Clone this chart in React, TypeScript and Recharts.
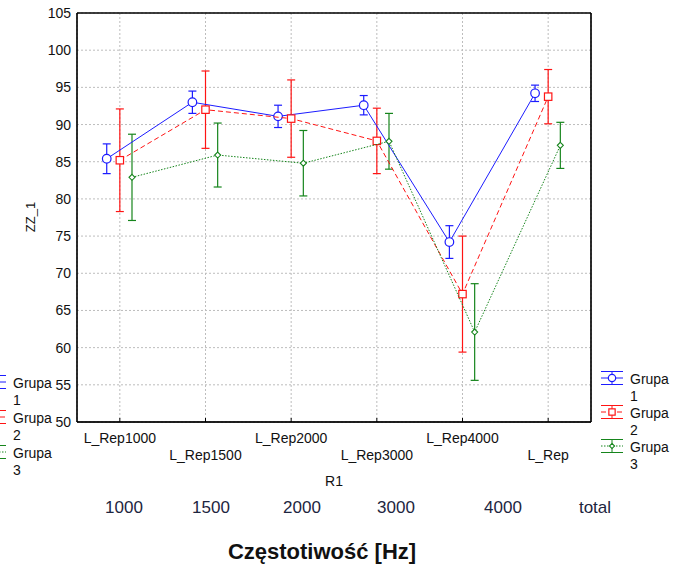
import React from 'react';
import { ScatterChart, Scatter, XAxis, YAxis, CartesianGrid, ErrorBar, ReferenceArea } from 'recharts';

// measurement points along R1
const categories = ['L_Rep1000', 'L_Rep1500', 'L_Rep2000', 'L_Rep3000', 'L_Rep4000', 'L_Rep'];

// group means and half-widths of the confidence bars
const group1Mean = [85.4, 93.0, 91.1, 92.6, 74.2, 94.2];
const group1Err = [2.0, 1.5, 1.5, 1.3, 2.2, 1.1];
const group2Mean = [85.2, 92.0, 90.8, 87.8, 67.2, 93.75];
const group2Err = [6.9, 5.2, 5.2, 4.4, 7.8, 3.65];
const group3Mean = [82.9, 85.9, 84.8, 87.75, 62.1, 87.2];
const group3Err = [5.8, 4.3, 4.4, 3.75, 6.5, 3.1];

const yTicks = [50, 55, 60, 65, 70, 75, 80, 85, 90, 95, 100, 105];
const xTicks = [1, 2, 3, 4, 5, 6];

const freqLabels = ['1000', '1500', '2000', '3000', '4000', 'total'];
const freqLabelX = [124, 211, 302, 396, 503, 595];

const FONT = '"Liberation Sans", Arial, sans-serif';

type Kind = 'circle' | 'square' | 'diamond';

const SERIES = [
  { id: '1', mean: group1Mean, err: group1Err, color: '#1c1cff', dash: undefined, offset: -0.153, kind: 'circle' as Kind },
  { id: '2', mean: group2Mean, err: group2Err, color: '#ff1414', dash: '5 3', offset: 0, kind: 'square' as Kind },
  { id: '3', mean: group3Mean, err: group3Err, color: '#16851c', dash: '1.5 1.5', offset: 0.142, kind: 'diamond' as Kind },
];

const toPoints = (mean: number[], err: number[], offset: number) =>
  mean.map((m, i) => ({ x: i + 1 + offset, y: m, err: err[i] }));

const Marker = ({ kind, cx, cy, color, s = 1 }: { kind: Kind; cx: number; cy: number; color: string; s?: number }) => {
  if (kind === 'circle') return <circle cx={cx} cy={cy} r={4.3 * s} fill="#fff" stroke={color} strokeWidth={1.2} />;
  if (kind === 'square')
    return <rect x={cx - 3.7 * s} y={cy - 3.7 * s} width={7.4 * s} height={7.4 * s} fill="#fff" stroke={color} strokeWidth={1.2} />;
  const d = 3 * s;
  return <path d={`M${cx},${cy - d}L${cx + d},${cy}L${cx},${cy + d}L${cx - d},${cy}Z`} fill="#fff" stroke={color} strokeWidth={1.1} />;
};

// alternating two-row category ticks, with a short inward tick mark
const CategoryTick = (props: any) => {
  const { x, y, payload } = props;
  const idx = Math.round(payload.value) - 1;
  const dy = idx % 2 === 0 ? 16 : 33;
  return (
    <g>
      <line x1={x} y1={y} x2={x} y2={y - 4} stroke="#000" strokeWidth={1} />
      <text x={x} y={y + dy} textAnchor="middle" dominantBaseline="central" fontSize={14} fontFamily={FONT} fill="#111">
        {categories[idx]}
      </text>
    </g>
  );
};

const LegendIcon = ({ s }: { s: (typeof SERIES)[number] }) => (
  <svg width={24} height={16} style={{ position: 'absolute', left: 0, top: 0, overflow: 'visible' }}>
    <line x1={1} y1={1.5} x2={23} y2={1.5} stroke={s.color} strokeWidth={1} />
    <line x1={1} y1={14.5} x2={23} y2={14.5} stroke={s.color} strokeWidth={1} />
    <line x1={12} y1={1.5} x2={12} y2={14.5} stroke={s.color} strokeWidth={1} />
    <line x1={1} y1={8} x2={23} y2={8} stroke={s.color} strokeWidth={1} strokeDasharray={s.dash} />
    <Marker kind={s.kind} cx={12} cy={8} color={s.color} s={0.85} />
  </svg>
);

const GroupLegend = ({ left, top, step }: { left: number; top: number; step: number }) => (
  <>
    {SERIES.map((s, i) => (
      <div key={s.id} style={{ position: 'absolute', left, top: top + i * step, width: 80 }}>
        <LegendIcon s={s} />
        <div style={{ position: 'absolute', left: 30, top: 1, fontSize: 14, lineHeight: '17.5px', color: '#111', fontFamily: FONT }}>
          Grupa
          <br />
          {s.id}
        </div>
      </div>
    ))}
  </>
);

export default function App() {
  return (
    <div style={{ position: 'absolute', left: 0, top: 0, width: 686, height: 565, overflow: 'hidden', background: '#fff', fontFamily: FONT }}>
      <ScatterChart width={686} height={565} margin={{ top: 12, right: 95, bottom: 103, left: 0 }}>
        <CartesianGrid stroke="#bdbdbd" strokeDasharray="2 2" />
        <XAxis
          type="number"
          dataKey="x"
          domain={[0.5, 6.5]}
          ticks={xTicks}
          height={40}
          tickLine={false}
          tickSize={0}
          tickMargin={0}
          axisLine={{ stroke: '#000', strokeWidth: 1.3 }}
          tick={<CategoryTick />}
          interval={0}
        />
        <XAxis xAxisId="top" orientation="top" type="number" domain={[0.5, 6.5]} ticks={xTicks} height={1} tick={false} tickLine={false} axisLine={{ stroke: '#000' }} />
        <YAxis
          type="number"
          dataKey="y"
          domain={[50, 105]}
          ticks={yTicks}
          width={77}
          tickLine={false}
          tickSize={4}
          tickMargin={2}
          axisLine={{ stroke: '#000', strokeWidth: 1.3 }}
          tick={{ fontSize: 14, fill: '#111', fontFamily: FONT }}
          interval={0}
        />
        <YAxis
          yAxisId="right"
          orientation="right"
          type="number"
          domain={[50, 105]}
          ticks={yTicks}
          width={1}
          mirror
          tickSize={4}
          tick={false}
          tickLine={{ stroke: '#000' }}
          axisLine={{ stroke: '#000', strokeWidth: 1.3 }}
        />
        <ReferenceArea x1={0.5} x2={6.5} y1={50} y2={105} fill="none" stroke="#000" strokeWidth={1} ifOverflow="visible" />
        {SERIES.map((s) => (
          <Scatter
            key={s.id}
            name={`Grupa ${s.id}`}
            data={toPoints(s.mean, s.err, s.offset)}
            isAnimationActive={false}
            line={{ stroke: s.color, strokeWidth: 1, strokeDasharray: s.dash }}
            lineJointType="linear"
            shape={(p: any) => <Marker kind={s.kind} cx={p.cx} cy={p.cy} color={s.color} />}
          >
            <ErrorBar dataKey="err" direction="y" width={4} stroke={s.color} strokeWidth={1.2} isAnimationActive={false} />
          </Scatter>
        ))}
      </ScatterChart>

      <div style={{ position: 'absolute', left: 30, top: 217, transform: 'translate(-50%, -50%) rotate(-90deg)', fontSize: 13, color: '#111', whiteSpace: 'nowrap' }}>
        ZZ_1
      </div>
      <div style={{ position: 'absolute', left: 334, top: 481, transform: 'translate(-50%, -50%)', fontSize: 14, color: '#111' }}>R1</div>

      {freqLabels.map((t, i) => (
        <div
          key={t}
          style={{ position: 'absolute', left: freqLabelX[i], top: 508, transform: 'translate(-50%, -50%)', fontSize: 17, color: '#1d2540', whiteSpace: 'nowrap' }}
        >
          {t}
        </div>
      ))}
      <div style={{ position: 'absolute', left: 322, top: 552, transform: 'translate(-50%, -50%)', fontSize: 22, fontWeight: 'bold', color: '#111', whiteSpace: 'nowrap' }}>
        Częstotiwość [Hz]
      </div>

      <GroupLegend left={600} top={369.5} step={34.2} />
      <GroupLegend left={-17} top={373.5} step={35} />
    </div>
  );
}
